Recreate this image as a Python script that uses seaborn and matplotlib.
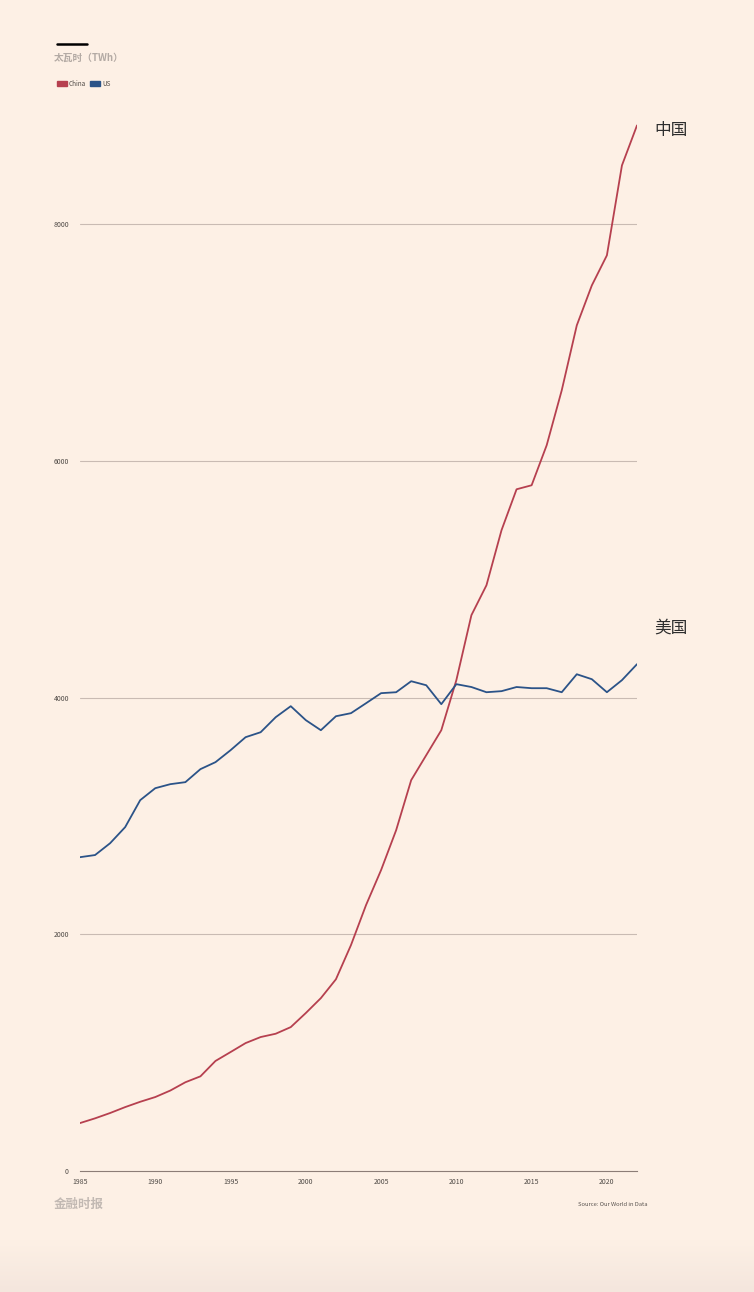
import matplotlib
matplotlib.use("Agg")
import matplotlib.pyplot as plt
import numpy as np
import pandas as pd
import seaborn as sns
from matplotlib.patches import Rectangle

# electricity generation, TWh
years = list(range(1985, 2023))
china = [405, 445, 490, 540, 585, 625, 680, 750, 800, 930, 1005, 1081, 1132, 1160,
         1216, 1335, 1461, 1620, 1909, 2247, 2543, 2880, 3303, 3514, 3725, 4148,
         4697, 4950, 5415, 5761, 5795, 6133, 6597, 7146, 7484, 7738, 8498, 8836]
us = [2652, 2670, 2770, 2906, 3134, 3235, 3269, 3286, 3396, 3455, 3556, 3666, 3708,
      3835, 3928, 3810, 3725, 3843, 3869, 3953, 4038, 4046, 4139, 4105, 3945, 4114,
      4090, 4046, 4055, 4090, 4080, 4080, 4046, 4198, 4156, 4046, 4148, 4283]
series_names = ["China", "US"]
end_labels = ["中国", "美国"]
y_ticks = [0, 2000, 4000, 6000, 8000]
x_ticks = [1985, 1990, 1995, 2000, 2005, 2010, 2015, 2020]

BG = "#fdf0e5"
RED = "#b6404f"
BLUE = "#2b5388"
palette = {"China": RED, "US": BLUE}

df = pd.DataFrame({
    "year": years * 2,
    "twh": china + us,
    "country": ["China"] * len(years) + ["US"] * len(years),
})

sns.set_theme(style="white")
plt.rcParams["font.family"] = ["Noto Sans CJK SC", "DejaVu Sans"]

fig = plt.figure(figsize=(7.54, 12.92), dpi=100, facecolor=BG)

# faint shadow band along the bottom edge
grad = fig.add_axes([0, 0, 1, 0.04], zorder=-5)
grad.imshow(np.linspace(0, 1, 64).reshape(-1, 1), aspect="auto",
            cmap=matplotlib.colors.LinearSegmentedColormap.from_list("g", [BG, "#f4e6dd"]),
            origin="upper", extent=[0, 1, 0, 1])
grad.axis("off")

ax = fig.add_axes([80 / 754, 1 - 1171 / 1292, (637 - 80) / 754, (1171 - 106) / 1292])
ax.set_facecolor(BG)

sns.lineplot(data=df, x="year", y="twh", hue="country", palette=palette,
             linewidth=1.3, legend=False, ax=ax)

ax.set_xlim(1985, 2022)
ax.set_ylim(0, 9000)
ax.set_yticks(y_ticks)
ax.set_xticks(x_ticks)
ax.set_xlabel("")
ax.set_ylabel("")
for v in y_ticks[1:]:
    ax.axhline(v, color="#c9bbb3", linewidth=0.8, zorder=0)

for side in ["top", "right", "left"]:
    ax.spines[side].set_visible(False)
ax.spines["bottom"].set_color("#8c7d77")
ax.spines["bottom"].set_linewidth(0.8)
ax.tick_params(axis="x", direction="out", length=4, width=0.7, color="#8c7d77",
               labelsize=5, labelcolor="#4f4a46", pad=1)
ax.tick_params(axis="y", length=0, labelsize=5, labelcolor="#4f4a46", pad=8)

# end-of-line labels
ax.text(2023.15, 8795, end_labels[0], fontsize=12, color="#2e2e2e", va="center", ha="left",
        clip_on=False)
ax.text(2023.15, 4587, end_labels[1], fontsize=12, color="#2e2e2e", va="center", ha="left",
        clip_on=False)

# header
fig.add_artist(plt.Line2D([57 / 754, 87 / 754], [1 - 44 / 1292] * 2, color="black",
                          linewidth=1.8))
fig.text(54 / 754, 1 - 58 / 1292, "太瓦时（TWh）", fontsize=7, color="#b3aaa4",
         fontweight="bold", va="center", ha="left")
for name, x0 in zip(series_names, [57, 90]):
    fig.add_artist(Rectangle((x0 / 754, 1 - 86 / 1292), 10 / 754, 5 / 1292,
                             color=palette[name], transform=fig.transFigure))
    fig.text((x0 + 12) / 754, 1 - 83.5 / 1292, name, fontsize=4.6, color="#4f4a46",
             va="center", ha="left")

# footer
fig.text(54 / 754, 1 - 1204 / 1292, "金融时报", fontsize=9, color="#c2b9b3",
         fontweight="bold", va="center", ha="left")
fig.text(578 / 754, 1 - 1205 / 1292, "Source: Our World in Data", fontsize=4.2,
         color="#5a5450", va="center", ha="left")

fig.savefig("out.png", dpi=100, facecolor=BG)
